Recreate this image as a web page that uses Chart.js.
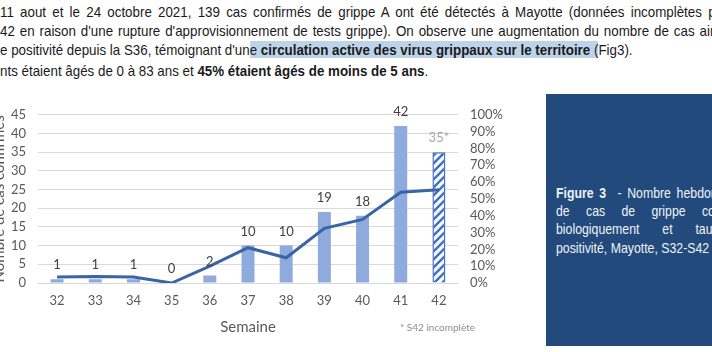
<!DOCTYPE html>
<html lang="fr">
<head>
<meta charset="utf-8">
<script src="https://cdn.jsdelivr.net/npm/chart.js@4.4.1/dist/chart.umd.min.js"></script>
<style>
  html, body { margin: 0; padding: 0; background: #fff; overflow: hidden; }
  body { width: 712px; height: 352px; position: relative; }
  .txt {
    position: absolute; left: 0; white-space: nowrap;
    font-family: "Liberation Sans", Arial, sans-serif;
    font-size: 15px; color: #1a1a1a; line-height: 18px;
    transform: scaleX(0.82); transform-origin: 0 0;
  }
  .corps { transform: scaleX(0.89); }
  .just { text-align: justify; text-align-last: justify; white-space: normal; height: 18px; overflow: hidden; }
  .serre { word-spacing: -2px; }
  .hl { background: #bcd3ea; }
  #chartBox { position: absolute; left: -10px; top: 95px; width: 524px; height: 245px; }
  #note { position: absolute; left: 400px; top: 321px; font-family: Lato, sans-serif; font-size: 10px; color: #8c8c8c; }
  #figBox { position: absolute; left: 546px; top: 94px; width: 180px; height: 252px; background: #234a7c; overflow: hidden; }
  #figBox .txt { left: 10px; color: #eef2f8; width: 243px; }
</style>
</head>
<body>
<div class="txt corps just serre" style="top:3px;width:804px">11 aout et le 24 octobre 2021, 139 cas confirmés de grippe A ont été détectés à Mayotte (données incomplètes p</div>
<div class="txt corps just serre" style="top:22px;width:806px">42 en raison d'une rupture d'approvisionnement de tests grippe). On observe une augmentation du nombre de cas ain</div>
<div class="txt corps" style="top:41px">e positivité depuis la S36, témoignant d'un<span class="hl">e <b>circulation active des virus grippaux sur le territoire</b> (</span>Fig3).</div>
<div class="txt corps" style="top:62px">nts étaient âgés de 0 à 83 ans et <b>45% étaient âgés de moins de 5 ans</b>.</div>

<div id="chartBox"><canvas id="fluChart"></canvas></div>
<div id="note">* S42 incomplète</div>

<div id="figBox">
  <div class="txt just" style="top:90px"><b>Figure 3</b> &nbsp;- Nombre hebdomadaire</div>
  <div class="txt just" style="top:108px">de cas de grippe confirmés</div>
  <div class="txt just" style="top:126px">biologiquement et taux de</div>
  <div class="txt" style="top:145px">positivité, Mayotte, S32-S42</div>
</div>

<script>
const semaines = ["32", "33", "34", "35", "36", "37", "38", "39", "40", "41", "42"];
const casConfirmes = [1, 1, 1, 0, 2, 10, 10, 19, 18, 42, 35];
const tauxPositivite = [3.5, 3.9, 3.5, 0, 10, 21, 15, 32.5, 37.8, 54, 55.5];
const etiquettes = ["1", "1", "1", "0", "2", "10", "10", "19", "18", "42", "35*"];
const ticksCas = [0, 5, 10, 15, 20, 25, 30, 35, 40, 45];

const gris = "#595959";
const bleuBarre = "#8faadc";
const bleuLigne = "#3a64a6";

function hachures() {
  const c = document.createElement("canvas");
  c.width = 8; c.height = 8;
  const g = c.getContext("2d");
  g.fillStyle = "#fff";
  g.fillRect(0, 0, 8, 8);
  g.strokeStyle = "#4472c4";
  g.lineWidth = 2.6;
  g.beginPath();
  g.moveTo(-1, 9); g.lineTo(9, -1);
  g.moveTo(-4, 4); g.lineTo(4, -4);
  g.moveTo(4, 12); g.lineTo(12, 4);
  g.stroke();
  return g.createPattern(c, "repeat");
}

const etiquettesPlugin = {
  id: "etiquettes",
  afterDatasetsDraw(chart) {
    const meta = chart.getDatasetMeta(1);
    const ctx = chart.ctx;
    ctx.save();
    ctx.font = "13px Lato, sans-serif";
    ctx.textAlign = "center";
    ctx.textBaseline = "middle";
    meta.data.forEach((bar, i) => {
      ctx.fillStyle = i === etiquettes.length - 1 ? "#a6a6a6" : "#404040";
      ctx.fillText(etiquettes[i], bar.x, bar.y - 14);
    });
    ctx.restore();
  }
};

const motif = hachures();

new Chart(document.getElementById("fluChart"), {
  data: {
    labels: semaines,
    datasets: [
      {
        type: "line",
        data: tauxPositivite,
        yAxisID: "y1",
        borderColor: bleuLigne,
        borderWidth: 3,
        pointRadius: 0,
        tension: 0,
        order: 0
      },
      {
        type: "bar",
        data: casConfirmes,
        yAxisID: "y",
        backgroundColor: casConfirmes.map((v, i) => i === casConfirmes.length - 1 ? motif : bleuBarre),
        borderColor: casConfirmes.map((v, i) => i === casConfirmes.length - 1 ? "#4472c4" : bleuBarre),
        borderWidth: casConfirmes.map((v, i) => i === casConfirmes.length - 1 ? 1.5 : 0),
        barPercentage: 0.34,
        categoryPercentage: 1,
        order: 1
      }
    ]
  },
  options: {
    responsive: true,
    maintainAspectRatio: false,
    animation: false,
    layout: { padding: { top: 16, left: 0, right: 0, bottom: 0 } },
    plugins: { legend: { display: false }, tooltip: { enabled: false } },
    scales: {
      x: {
        grid: { display: false, drawTicks: false },
        border: { display: false },
        ticks: { color: gris, font: { family: "Lato", size: 13 }, padding: 10 },
        title: { display: true, text: "Semaine", color: gris, font: { family: "Lato", size: 15 }, padding: { top: 6, bottom: 4 } },
        afterFit(scale) { scale.height = 57; }
      },
      y: {
        position: "left",
        min: 0,
        max: 45,
        afterBuildTicks(scale) { scale.ticks = ticksCas.map((v) => ({ value: v })); },
        grid: { color: "#d9d9d9", drawTicks: false },
        border: { display: false },
        ticks: { color: gris, font: { family: "Lato", size: 13 }, padding: 12 },
        title: { display: true, text: "Nombre de cas confirmés", color: gris, font: { family: "Lato", size: 15 }, padding: 0 },
        afterFit(scale) { scale.width = 48; }
      },
      y1: {
        position: "right",
        min: 0,
        max: 100,
        grid: { display: false, drawTicks: false },
        border: { display: false },
        ticks: { stepSize: 10, autoSkip: false, color: gris, font: { family: "Lato", size: 13 }, padding: 12, callback: (v) => v + "%" },
        afterFit(scale) { scale.width = 56; }
      }
    }
  },
  plugins: [etiquettesPlugin]
});
</script>
</body>
</html>
